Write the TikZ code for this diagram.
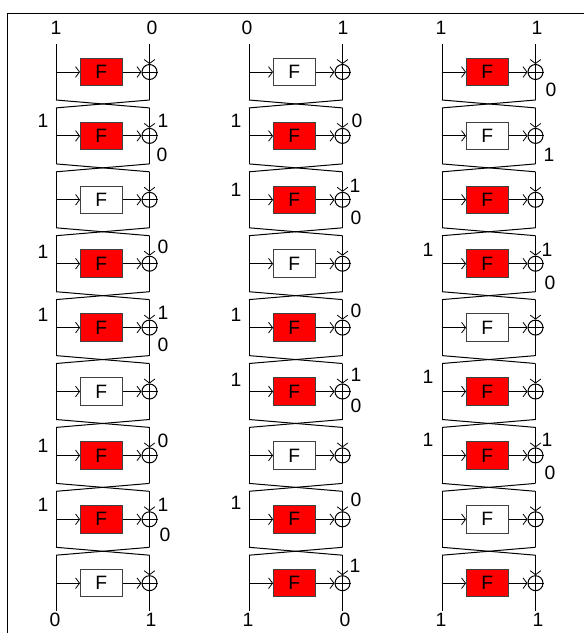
\documentclass[tikz,border=0pt]{standalone}
\usepackage{fontspec}
\setmainfont{Liberation Sans}
\usetikzlibrary{arrows.meta}
\pgfmathsetmacro{\myw}{93.5}
\pgfmathsetmacro{\myh}{63.9}
\pgfmathsetmacro{\mys}{28}
\tikzset{
    feistel/.style={draw=black!75, minimum width=41.5pt*0.75, minimum height=27.5pt*0.75, inner sep=0pt, font=\fontsize{14.5}{16}\selectfont},
    xorgate/.style={draw, circle, minimum size=15pt*0.75, inner sep=0pt},
    bit/.style={inner sep=0pt, font=\fontsize{14.5}{16}\selectfont},
    barb/.style={-{Straight Barb[length=3pt, width=8pt, line width=0.6pt]}}
}

\begin{document}
\begin{tikzpicture}[x=0.75pt, y=-0.75pt, line width=0.75pt]
\useasboundingbox (0,0) rectangle (584,633);

\coordinate (framea) at (7.5,634);
\coordinate (frameb) at (7.5,13.5);
\coordinate (framec) at (585,13.5);
\draw (framea) -- (frameb) -- (framec);

\foreach \c/\x/\w in {1/56/2, 2/249/0, 3/442/1}{
    \foreach \r in {0,...,8}{
        \pgfmathsetmacro{\yc}{72+\r*\myh}
        \pgfmathtruncatemacro{\m}{mod(\r,3)}
        \ifnum\m=\w
            \node[feistel, fill=white] (f\c\r) at (\x+45.3,\yc) {F};
        \else
            \node[feistel, fill=red] (f\c\r) at (\x+45.3,\yc) {F};
        \fi
        \node[xorgate] (xor\c\r) at (\x+\myw,\yc) {};
        \coordinate (lt\c\r) at (\x,\yc-\mys);
        \coordinate (lm\c\r) at (\x,\yc);
        \coordinate (lb\c\r) at (\x,\yc+\mys);
        \coordinate (rt\c\r) at (\x+\myw,\yc-\mys);
        \coordinate (rb\c\r) at (\x+\myw,\yc+\mys);
        \draw (lt\c\r) -- (lb\c\r);
        \draw[barb] (lm\c\r) -- (f\c\r.west);
        \draw[barb] (f\c\r.east) -- (xor\c\r.west);
        \draw[barb] (rt\c\r) -- (xor\c\r.north);
        \draw (xor\c\r.north) -- (xor\c\r.south);
        \draw (xor\c\r.west) -- (xor\c\r.east);
        \draw (xor\c\r.south) -- (rb\c\r);
    }
    \foreach \r [evaluate=\r as \n using int(\r+1)] in {0,...,7}{
        \draw (lb\c\r) -- (rt\c\n);
        \draw (rb\c\r) -- (lt\c\n);
    }
}

\foreach \i/\x/\y/\t in {
    1/56/28/1, 2/152/28/0, 3/43/121/1, 4/163/121/1, 5/162/155/0,
    6/43/252/1, 7/163/247/0, 8/43/315/1, 9/163/313/1, 10/163/345/0,
    11/43/446/1, 12/163/441/0, 13/43/505/1, 14/163/505/1, 15/165/535/0,
    16/55/620/0, 17/151/620/1,
    18/247/28/0, 19/343/28/1, 20/236/121/1, 21/357/121/0,
    22/236/190/1, 23/355/186/1, 24/356/218/0, 25/236/315/1, 26/356/311/0,
    27/236/380/1, 28/356/375/1, 29/356/406/0, 30/236/503/1, 31/356/500/0,
    32/355/566/1, 33/248/620/1, 34/345/620/0,
    35/441/28/1, 36/537/28/1, 37/551/90/0, 38/549/155/1,
    39/428/250/1, 40/547/250/1, 41/550/283/0, 42/428/377/1,
    43/428/440/1, 44/547/440/1, 45/550/473/0, 46/441/620/1, 47/538/620/1}{
    \node[bit] (bit\i) at (\x,\y) {\t};
}
\end{tikzpicture}
\end{document}
